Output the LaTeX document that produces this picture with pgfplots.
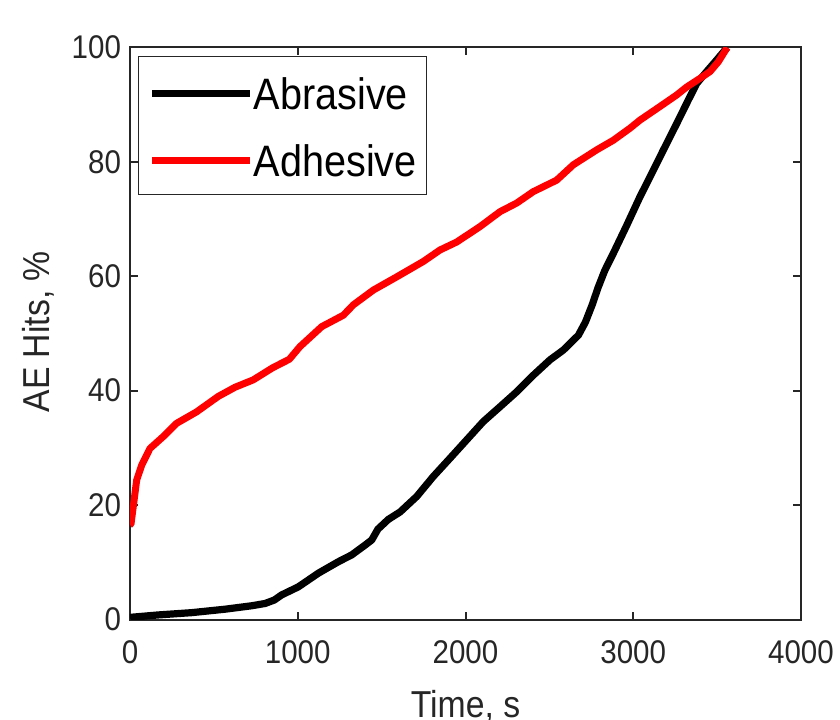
\documentclass[border=0pt]{standalone}
\usepackage{fontspec}
\setmainfont{Liberation Sans}[FakeStretch=0.9]
\usepackage{pgfplots}
\pgfplotsset{compat=1.18}
\definecolor{axgray}{RGB}{38,38,38}

\begin{document}
\begin{tikzpicture}
% fixed page: 840x719 px at 0.5pt per px, axis box at (0,0)
\path[use as bounding box] (-65pt,-49.75pt) rectangle (355pt,309.75pt);
\begin{axis}[
    scale only axis, width=335.5pt, height=286pt,
    xmin=0, xmax=4000, ymin=0, ymax=100,
    xtick={0,1000,2000,3000,4000}, ytick={0,20,40,60,80,100},
    scaled x ticks=false,
    /pgf/number format/assume math mode=true,
    /pgf/number format/1000 sep={},
    axis line style={axgray, line width=1pt},
    tick style={axgray, line width=1pt},
    major tick length=4pt,
    tick align=inside,
    ticklabel style={font=\fontsize{16.4}{20}\selectfont, text=axgray},
    xticklabel style={yshift=-7pt},
    yticklabel style={xshift=-1pt},
    xlabel={Time, s},
    ylabel={AE Hits, \%},
    every axis x label/.style={at={(rel axis cs:0.5,-0.1)}, anchor=north, yshift=-3.5pt,
        font=\fontsize{18.75}{22}\selectfont, text=axgray},
    every axis y label/.style={at={(rel axis cs:-0.1364,0.503)}, anchor=center, rotate=90,
        font=\fontsize{18.75}{22}\selectfont, text=axgray},
    legend style={at={(rel axis cs:0.0119,0.985)}, anchor=north west,
        draw=axgray, line width=0.6pt, font=\fontsize{22}{26}\selectfont,
        inner xsep=5pt, inner ysep=8pt, row sep=14pt,
        nodes={inner sep=0pt, text height=18.5pt, text depth=1pt}},
    legend cell align=left,
    legend image code/.code={\draw[#1] (0pt,-0.5pt) -- (49pt,-0.5pt);},
]
\addplot[black, line width=3.6pt, line join=round] coordinates {
(0,0.3) (10,0.4) (169,0.8) (368,1.2) (566,1.8) (725,2.4) (805,2.8) (860,3.4)
(904,4.3) (1003,5.7) (1123,8.1) (1242,10.1) (1322,11.3) (1401,13) (1441,13.9)
(1478,15.8) (1540,17.5) (1610,18.8) (1709,21.5) (1808,25) (1908,28.2) (2007,31.4)
(2106,34.6) (2206,37.2) (2305,39.8) (2404,42.7) (2504,45.4) (2583,47.1) (2673,49.7)
(2715,52) (2755,55) (2790,58) (2830,61) (2881,64) (2961,68.9) (3040,73.9)
(3090,76.8) (3180,82.1) (3259,86.7) (3328,90.8) (3378,93.7) (3438,95.8) (3497,97.8)
(3560,100)
};
\addlegendentry{Abrasive}
\addplot[red, line width=3.5pt, line join=round] coordinates {
(0,16.6) (6,16.7) (40,24.4) (70,27) (119,29.9) (199,32) (278,34.3) (397,36.3)
(526,39) (626,40.6) (735,41.9) (850,44) (950,45.5) (1013,47.7) (1143,51.2)
(1272,53.2) (1331,55) (1451,57.6) (1590,59.9) (1749,62.6) (1848,64.6) (1948,66)
(2087,68.7) (2206,71.3) (2305,72.8) (2404,74.8) (2543,76.8) (2643,79.5) (2782,82.1)
(2882,83.8) (2981,85.9) (3040,87.3) (3160,89.7) (3259,91.7) (3319,93.1) (3398,94.6)
(3458,95.8) (3507,97.5) (3560,100)
};
\addlegendentry{Adhesive}
\end{axis}
\end{tikzpicture}
\end{document}
